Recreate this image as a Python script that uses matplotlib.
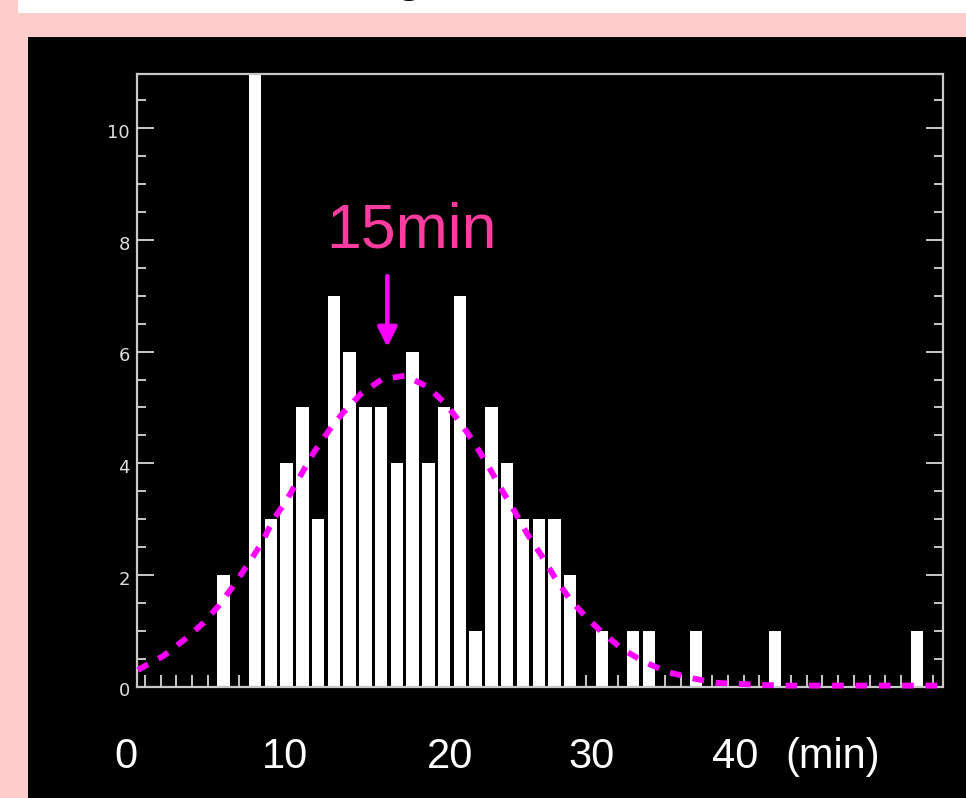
import matplotlib
matplotlib.use("Agg")
import matplotlib.pyplot as plt
from matplotlib.patches import Rectangle
from matplotlib.ticker import MultipleLocator, NullFormatter
import matplotlib.transforms as mtransforms

# ---- data ----
bins = list(range(0, 51))
counts = [0, 0, 0, 0, 0, 2, 0, 12, 3, 4,
          5, 3, 7, 6, 5, 5, 4, 6, 4, 5,
          7, 1, 5, 4, 3, 3, 3, 2, 0, 1,
          0, 1, 1, 0, 0, 1, 0, 0, 0, 0,
          1, 0, 0, 0, 0, 0, 0, 0, 0, 1,
          0]

fit_x = [-0.45, 1.17, 2.5, 3.67, 4.72, 5.65, 6.56, 7.41, 8.15, 9.04, 9.84,
         10.69, 11.64, 12.59, 13.74, 15.03, 16.51, 17.95, 19.1, 20.05, 20.96,
         21.78, 22.6, 23.43, 24.24, 25.15, 25.99, 26.94, 27.98, 29.15, 30.37,
         31.79, 33.23, 34.78, 36.24, 37.67, 39.3, 40.85, 42.4, 44.1, 45.8,
         47.45, 49.1, 50.5]
fit_y = [0.30, 0.55, 0.84, 1.13, 1.46, 1.82, 2.2, 2.57, 2.99, 3.36, 3.76,
         4.18, 4.57, 4.91, 5.25, 5.5, 5.57, 5.37, 5.06, 4.72, 4.34,
         3.96, 3.55, 3.16, 2.75, 2.36, 1.97, 1.58, 1.25, 0.94, 0.66,
         0.43, 0.26, 0.15, 0.07, 0.05, 0.03, 0.02, 0.02, 0.02, 0.02,
         0.02, 0.02, 0.02]

bottom_labels = ["0", "10", "20", "30", "40", "(min)"]
bottom_label_px = [126, 285, 450, 592, 735, 833]

peak_label = "15min"
peak_x = 15.39

W, H = 966, 798
fig = plt.figure(figsize=(W / 100, H / 100), dpi=100)
fig.patch.set_facecolor("#FFCCCC")

# white strip at the top and black panel
fig.patches.append(Rectangle((18 / W, 1 - 13 / H), 1, 13 / H, transform=fig.transFigure,
                             facecolor="white", edgecolor="none", zorder=0))
fig.patches.append(Rectangle((28 / W, 0), 1, 1 - 37 / H, transform=fig.transFigure,
                             facecolor="black", edgecolor="none", zorder=0))
# descender of a cut-off title letter
fig.text(409 / W, 1 + 11 / H, "g", fontsize=40, family="Liberation Sans",
         color="black", ha="center", va="baseline", zorder=1)

ax = fig.add_axes([136.7 / W, 1 - 686.7 / H, (942.5 - 136.7) / W, (686.7 - 74) / H])
ax.set_zorder(3)
ax.set_facecolor("black")
ax.set_axisbelow(True)

ax.bar(bins, counts, width=0.79, color="white", edgecolor="none", zorder=1)
ax.plot(fit_x, fit_y, color="#FF00FF", lw=4.2, linestyle=(0, (2.0, 2.0)),
        dash_capstyle="butt", zorder=3, clip_on=False)

ax.set_xlim(-0.52, 50.63)
ax.set_ylim(0, 10.97)

gray = "#C8C8C8"
for s in ax.spines.values():
    s.set_color(gray)
    s.set_linewidth(1.6)

ax.xaxis.set_major_locator(MultipleLocator(1))
ax.xaxis.set_major_formatter(NullFormatter())
ax.tick_params(axis="x", which="both", direction="in", length=8.4, width=1.4,
               color=gray, bottom=True, top=False, labelbottom=False)

ax.yaxis.set_major_locator(MultipleLocator(2))
ax.yaxis.set_minor_locator(MultipleLocator(0.5))
ax.tick_params(axis="y", which="major", direction="in", length=12.5, width=1.4,
               color=gray, left=True, right=True, labelleft=True, labelright=False,
               labelsize=13, labelcolor="#E0E0E0", pad=5)
ax.tick_params(axis="y", which="minor", direction="in", length=6.5, width=1.4,
               color=gray, left=True, right=True)
offset = mtransforms.ScaledTranslation(0, -2 / 72, fig.dpi_scale_trans)
for lab in ax.get_yticklabels():
    lab.set_family("DejaVu Sans")
    lab.set_transform(lab.get_transform() + offset)

# peak annotation
ax.annotate("", xy=(peak_x, 6.08), xytext=(peak_x, 7.35),
            arrowprops=dict(arrowstyle="-|>,head_length=0.4,head_width=0.2",
                            color="#FF00FF", lw=3.3, mutation_scale=29,
                            shrinkA=0, shrinkB=0))
ax.text(16.92, 7.87, peak_label, color="#FF3CA0", fontsize=45,
        family="Liberation Sans", ha="center", va="baseline")

# hand-placed bottom labels
for lab, px in zip(bottom_labels, bottom_label_px):
    fig.text(px / W, 30 / H, lab, color="white", fontsize=30,
             family="Liberation Sans", ha="center", va="baseline", zorder=4)

fig.savefig("out.png", dpi=100, facecolor=fig.get_facecolor())
